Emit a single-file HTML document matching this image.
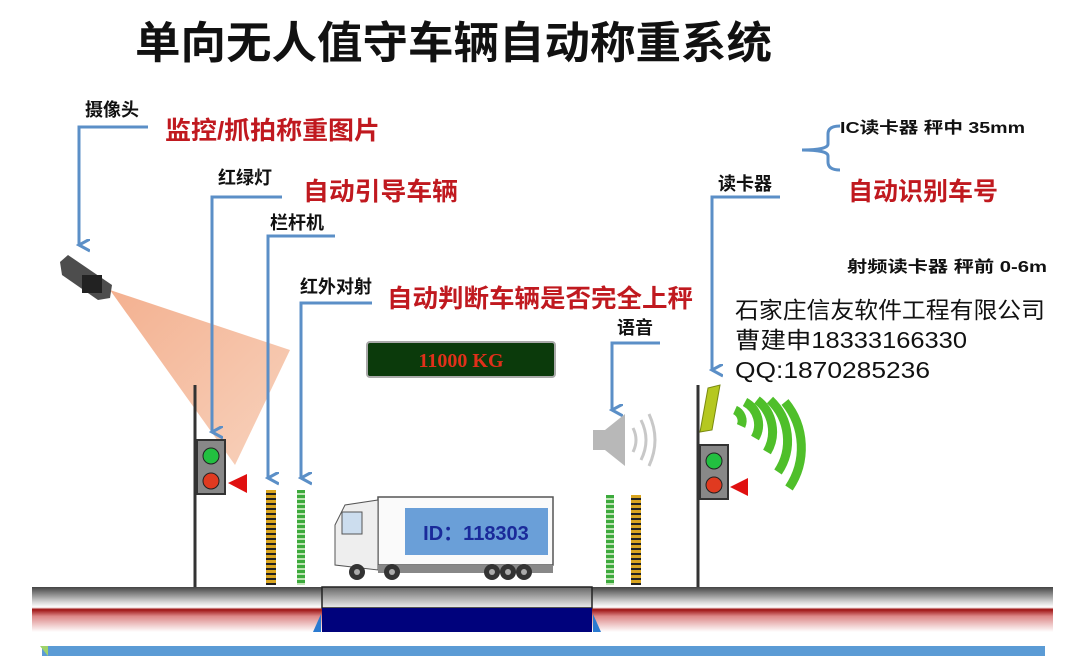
<!DOCTYPE html>
<html><head><meta charset="utf-8"><style>
html,body{margin:0;padding:0;background:#fff;}
svg{display:block;}
.b{font-family:"Liberation Sans","Noto Sans CJK SC",sans-serif;font-weight:bold;fill:#111;}
.r{font-family:"Liberation Sans","Noto Sans CJK SC",sans-serif;font-weight:bold;fill:#c0191f;font-size:25px;}
.n{font-family:"Liberation Sans","Noto Sans CJK SC",sans-serif;fill:#111;font-size:23px;}
</style></head><body>
<svg width="1066" height="656" viewBox="0 0 1066 656" xmlns="http://www.w3.org/2000/svg">
<defs>
<linearGradient id="road" x1="0" y1="0" x2="0" y2="1">
<stop offset="0" stop-color="#444"/><stop offset="0.35" stop-color="#ddd"/><stop offset="0.45" stop-color="#fff"/>
<stop offset="0.5" stop-color="#9c1010"/><stop offset="0.65" stop-color="#d88"/><stop offset="1" stop-color="#fff"/>
</linearGradient>
<linearGradient id="plat" x1="0" y1="0" x2="0" y2="1"><stop offset="0" stop-color="#666"/><stop offset="1" stop-color="#eee"/></linearGradient>
<linearGradient id="cone" x1="0" y1="0" x2="1" y2="1"><stop offset="0" stop-color="#f2a884"/><stop offset="1" stop-color="#f7cdb5"/></linearGradient>
<pattern id="ys" width="6" height="5" patternUnits="userSpaceOnUse"><rect width="6" height="5" fill="#222"/><rect width="6" height="3" fill="#d9a520"/></pattern>
<pattern id="gs" width="6" height="5" patternUnits="userSpaceOnUse"><rect width="6" height="5" fill="#bfe3b5"/><rect width="6" height="3" fill="#3caa3c"/></pattern>
<marker id="ar" markerWidth="14" markerHeight="14" refX="6" refY="11" orient="auto" markerUnits="userSpaceOnUse"><path d="M0,0 L6,11 L12,0" fill="none" stroke="#5b8fc7" stroke-width="3"/></marker>
</defs>

<text x="135" y="58" class="b" font-size="44" textLength="637" lengthAdjust="spacingAndGlyphs">单向无人值守车辆自动称重系统</text>

<!-- camera -->
<text x="85" y="116" class="b" font-size="18">摄像头</text>
<text x="165" y="139" class="r" textLength="215" lengthAdjust="spacingAndGlyphs">监控/抓拍称重图片</text>
<polyline points="148,127 79,127 79,245" fill="none" stroke="#5b8fc7" stroke-width="3" marker-end="url(#ar)"/>
<polygon points="110,290 290,350 235,465" fill="url(#cone)" opacity="0.9"/>
<polygon points="60,262 68,255 112,285 110,298 98,300 62,275" fill="#4d4d4d"/>
<rect x="82" y="275" width="20" height="18" fill="#222"/>

<!-- traffic light -->
<text x="218" y="184" class="b" font-size="18">红绿灯</text>
<text x="303" y="200" class="r" textLength="155" lengthAdjust="spacingAndGlyphs">自动引导车辆</text>
<polyline points="282,197 212,197 212,432" fill="none" stroke="#5b8fc7" stroke-width="3" marker-end="url(#ar)"/>
<text x="270" y="229" class="b" font-size="18">栏杆机</text>
<polyline points="335,236 268,236 268,478" fill="none" stroke="#5b8fc7" stroke-width="3" marker-end="url(#ar)"/>
<text x="300" y="293" class="b" font-size="18">红外对射</text>
<text x="387" y="307" class="r" textLength="306" lengthAdjust="spacingAndGlyphs">自动判断车辆是否完全上秤</text>
<polyline points="372,303 301,303 301,478" fill="none" stroke="#5b8fc7" stroke-width="3" marker-end="url(#ar)"/>

<line x1="195" y1="385" x2="195" y2="587" stroke="#333" stroke-width="3"/>
<rect x="197" y="440" width="28" height="54" fill="#888" stroke="#333" stroke-width="2"/>
<circle cx="211" cy="456" r="8" fill="#22c040" stroke="#222"/>
<circle cx="211" cy="481" r="8" fill="#e03a20" stroke="#222"/>
<polygon points="228,483 247,474 247,493" fill="#e01010"/>
<rect x="266" y="490" width="10" height="95" fill="url(#ys)"/>
<rect x="297" y="490" width="8" height="95" fill="url(#gs)"/>

<!-- LED -->
<rect x="367" y="342" width="188" height="35" rx="3" fill="#0b3a0b" stroke="#aaa" stroke-width="2"/>
<text x="461" y="367" text-anchor="middle" font-family="Liberation Serif,serif" font-size="20" font-weight="bold" fill="#e0301a">11000 KG</text>

<!-- speaker -->
<text x="617" y="334" class="b" font-size="18">语音</text>
<polyline points="660,343 612,343 612,410" fill="none" stroke="#5b8fc7" stroke-width="3" marker-end="url(#ar)"/>
<polygon points="593,430 605,430 625,414 625,466 605,450 593,450" fill="#b8b8b8"/>
<g stroke="#c8c8c8" stroke-width="3" fill="none"><path d="M633,428 q6,12 0,24"/><path d="M641,420 q10,20 0,40"/><path d="M649,414 q12,26 0,52"/></g>

<rect x="606" y="495" width="8" height="90" fill="url(#gs)"/>
<rect x="631" y="495" width="10" height="90" fill="url(#ys)"/>

<!-- right -->
<text x="718" y="190" class="b" font-size="18">读卡器</text>
<polyline points="780,197 712,197 712,370" fill="none" stroke="#5b8fc7" stroke-width="3" marker-end="url(#ar)"/>
<path d="M840,126 q-12,0 -12,8 v10 q0,6 -26,6 q26,0 26,6 v6 q0,8 12,8" fill="none" stroke="#5b8fc7" stroke-width="3"/>
<text x="840" y="133" class="b" font-size="16" textLength="185" lengthAdjust="spacingAndGlyphs">IC读卡器 秤中 35mm</text>
<text x="848" y="200" class="r" textLength="150" lengthAdjust="spacingAndGlyphs">自动识别车号</text>
<text x="847" y="272" class="b" font-size="16" textLength="200" lengthAdjust="spacingAndGlyphs">射频读卡器 秤前 0-6m</text>
<text x="735" y="318" class="n" textLength="310" lengthAdjust="spacingAndGlyphs">石家庄信友软件工程有限公司</text>
<text x="735" y="348" class="n" textLength="232" lengthAdjust="spacingAndGlyphs">曹建申18333166330</text>
<text x="735" y="378" class="n" textLength="195" lengthAdjust="spacingAndGlyphs">QQ:1870285236</text>

<line x1="698" y1="385" x2="698" y2="587" stroke="#333" stroke-width="3"/>
<polygon points="708,388 720,385 712,430 700,432" fill="#b5c820" stroke="#7a8a10"/>
<g stroke="#4fbf2a" stroke-width="9" fill="none" stroke-linecap="butt">
<path d="M735,410 a12,12 0 0 1 6,16"/><path d="M745,402 a26,26 0 0 1 10,36"/><path d="M757,400 a40,40 0 0 1 10,52"/>
<path d="M770,400 a56,56 0 0 1 8,72"/><path d="M785,402 a72,72 0 0 1 4,86"/>
</g>
<rect x="700" y="445" width="28" height="54" fill="#888" stroke="#333" stroke-width="2"/>
<circle cx="714" cy="461" r="8" fill="#22c040" stroke="#222"/>
<circle cx="714" cy="485" r="8" fill="#e03a20" stroke="#222"/>
<polygon points="730,487 748,478 748,496" fill="#e01010"/>

<!-- truck -->
<rect x="378" y="497" width="175" height="68" fill="#fafafa" stroke="#555" stroke-width="1.5"/>
<rect x="405" y="508" width="143" height="47" fill="#6a9fd8"/>
<text x="476" y="540" text-anchor="middle" font-family="Liberation Sans,'Noto Sans CJK SC',sans-serif" font-weight="bold" font-size="20" fill="#1a2a9a">ID：118303</text>
<path d="M335,565 L335,525 L345,505 L378,500 L378,570 Z" fill="#eee" stroke="#555"/>
<rect x="342" y="512" width="20" height="22" fill="#cde" stroke="#555"/>
<rect x="378" y="565" width="175" height="8" fill="#888"/>
<g fill="#333"><circle cx="357" cy="572" r="8"/><circle cx="392" cy="572" r="8"/><circle cx="492" cy="572" r="8"/><circle cx="508" cy="572" r="8"/><circle cx="524" cy="572" r="8"/></g>
<g fill="#aaa"><circle cx="357" cy="572" r="3"/><circle cx="392" cy="572" r="3"/><circle cx="492" cy="572" r="3"/><circle cx="508" cy="572" r="3"/><circle cx="524" cy="572" r="3"/></g>

<!-- road -->
<rect x="32" y="587" width="1021" height="45" fill="url(#road)"/>
<rect x="322" y="587" width="270" height="21" fill="url(#plat)" stroke="#222" stroke-width="1.5"/>
<rect x="322" y="608" width="270" height="24" fill="#00027c"/>
<polygon points="313,632 321,632 321,614" fill="#2a7ad0"/>
<polygon points="593,614 593,632 601,632" fill="#2a7ad0"/>
<rect x="42" y="646" width="1003" height="10" fill="#5b9bd5"/>
<polygon points="40,646 48,646 48,656" fill="#9fd36a"/>
</svg>
</body></html>
